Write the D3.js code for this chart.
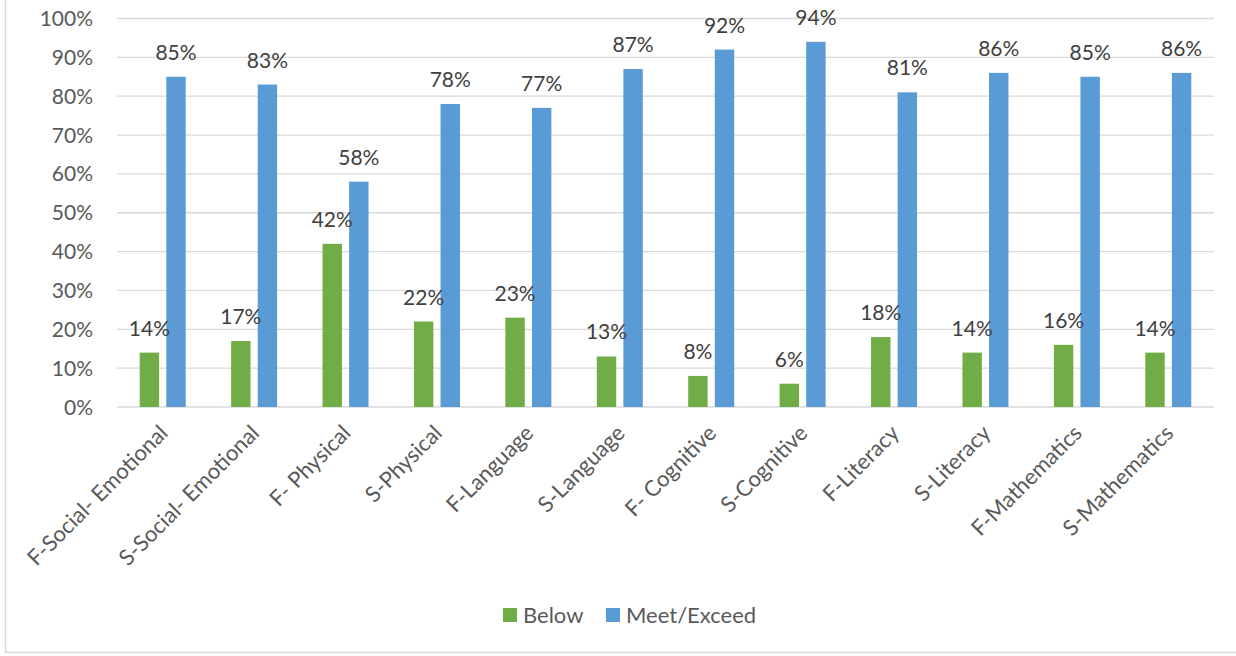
<!DOCTYPE html>
<html>
<head>
<meta charset="utf-8">
<script src="https://cdn.jsdelivr.net/npm/d3@7"></script>
<style>
  body { margin: 0; background: #fff; }
  text { font-family: Lato, "Open Sans", sans-serif; }
</style>
</head>
<body>
<svg id="chart" width="1236" height="656"></svg>
<script>
// data
const categories = ["F-Social- Emotional", "S-Social- Emotional", "F- Physical", "S-Physical",
  "F-Language", "S-Language", "F- Cognitive", "S-Cognitive", "F-Literacy", "S-Literacy",
  "F-Mathematics", "S-Mathematics"];
const below = [14, 17, 42, 22, 23, 13, 8, 6, 18, 14, 16, 14];
const meetExceed = [85, 83, 58, 78, 77, 87, 92, 94, 81, 86, 85, 86];
const seriesNames = ["Below", "Meet/Exceed"];
const yTicks = [0, 10, 20, 30, 40, 50, 60, 70, 80, 90, 100];

const colors = ["#70AD47", "#5B9BD5"];
const margin = {left: 117, right: 22, top: 18.5, plotBottom: 407};
const W = 1236, H = 656;

const svg = d3.select("#chart");

// outer chart border
svg.append("rect")
  .attr("x", 5.5).attr("y", -2)
  .attr("width", W + 10).attr("height", 654.5)
  .attr("fill", "none").attr("stroke", "#D9D9D9").attr("stroke-width", 1.5);

const x0 = d3.scaleBand().domain(categories).range([margin.left, W - margin.right]);
const x1 = d3.scaleBand().domain(seriesNames).range([0, 46]).paddingInner(0.27);
const y = d3.scaleLinear().domain([0, 100]).range([margin.plotBottom, margin.top]);

// gridlines
svg.append("g").selectAll("line").data(yTicks).join("line")
  .attr("x1", margin.left).attr("x2", W - margin.right)
  .attr("y1", d => y(d)).attr("y2", d => y(d))
  .attr("stroke", "#D9D9D9").attr("stroke-width", 1.3);

// y labels
svg.append("g").selectAll("text").data(yTicks).join("text")
  .attr("x", 93).attr("y", d => y(d)).attr("dy", "0.36em")
  .attr("text-anchor", "end")
  .attr("fill", "#595959").style("font-size", "21px")
  .text(d => d + "%");

const rows = categories.map((c, i) => ({cat: c, vals: [below[i], meetExceed[i]]}));

const groups = svg.append("g").selectAll("g").data(rows).join("g")
  .attr("transform", d => `translate(${x0(d.cat) + x0.bandwidth() / 2 - 23},0)`);

groups.selectAll("rect").data(d => d.vals.map((v, j) => ({v, s: seriesNames[j], j}))).join("rect")
  .attr("x", d => x1(d.s)).attr("width", x1.bandwidth())
  .attr("y", d => y(d.v)).attr("height", d => y(0) - y(d.v))
  .attr("fill", d => colors[d.j]);

groups.selectAll("text").data(d => d.vals.map((v, j) => ({v, s: seriesNames[j], j}))).join("text")
  .attr("x", d => x1(d.s) + x1.bandwidth() / 2)
  .attr("y", d => y(d.v) - 17)
  .attr("text-anchor", "middle")
  .attr("fill", "#404040").style("font-size", "21px")
  .text(d => d.v + "%");

// category labels, rotated
svg.append("g").selectAll("text").data(categories).join("text")
  .attr("transform", d => `translate(${x0(d) + x0.bandwidth() / 2 + 1},${margin.plotBottom + 22}) rotate(-45)`)
  .attr("text-anchor", "end").attr("dy", "0.35em")
  .attr("fill", "#595959").style("font-size", "22px")
  .text(d => d);

// legend
const legend = svg.append("g");
const legendX = [503, 606];
seriesNames.forEach((s, i) => {
  legend.append("rect").attr("x", legendX[i]).attr("y", 608).attr("width", 14).attr("height", 14)
    .attr("fill", colors[i]);
  legend.append("text").attr("x", legendX[i] + 20).attr("y", 615).attr("dy", "0.36em")
    .attr("fill", "#595959").style("font-size", "22px").text(s);
});
</script>
</body>
</html>
